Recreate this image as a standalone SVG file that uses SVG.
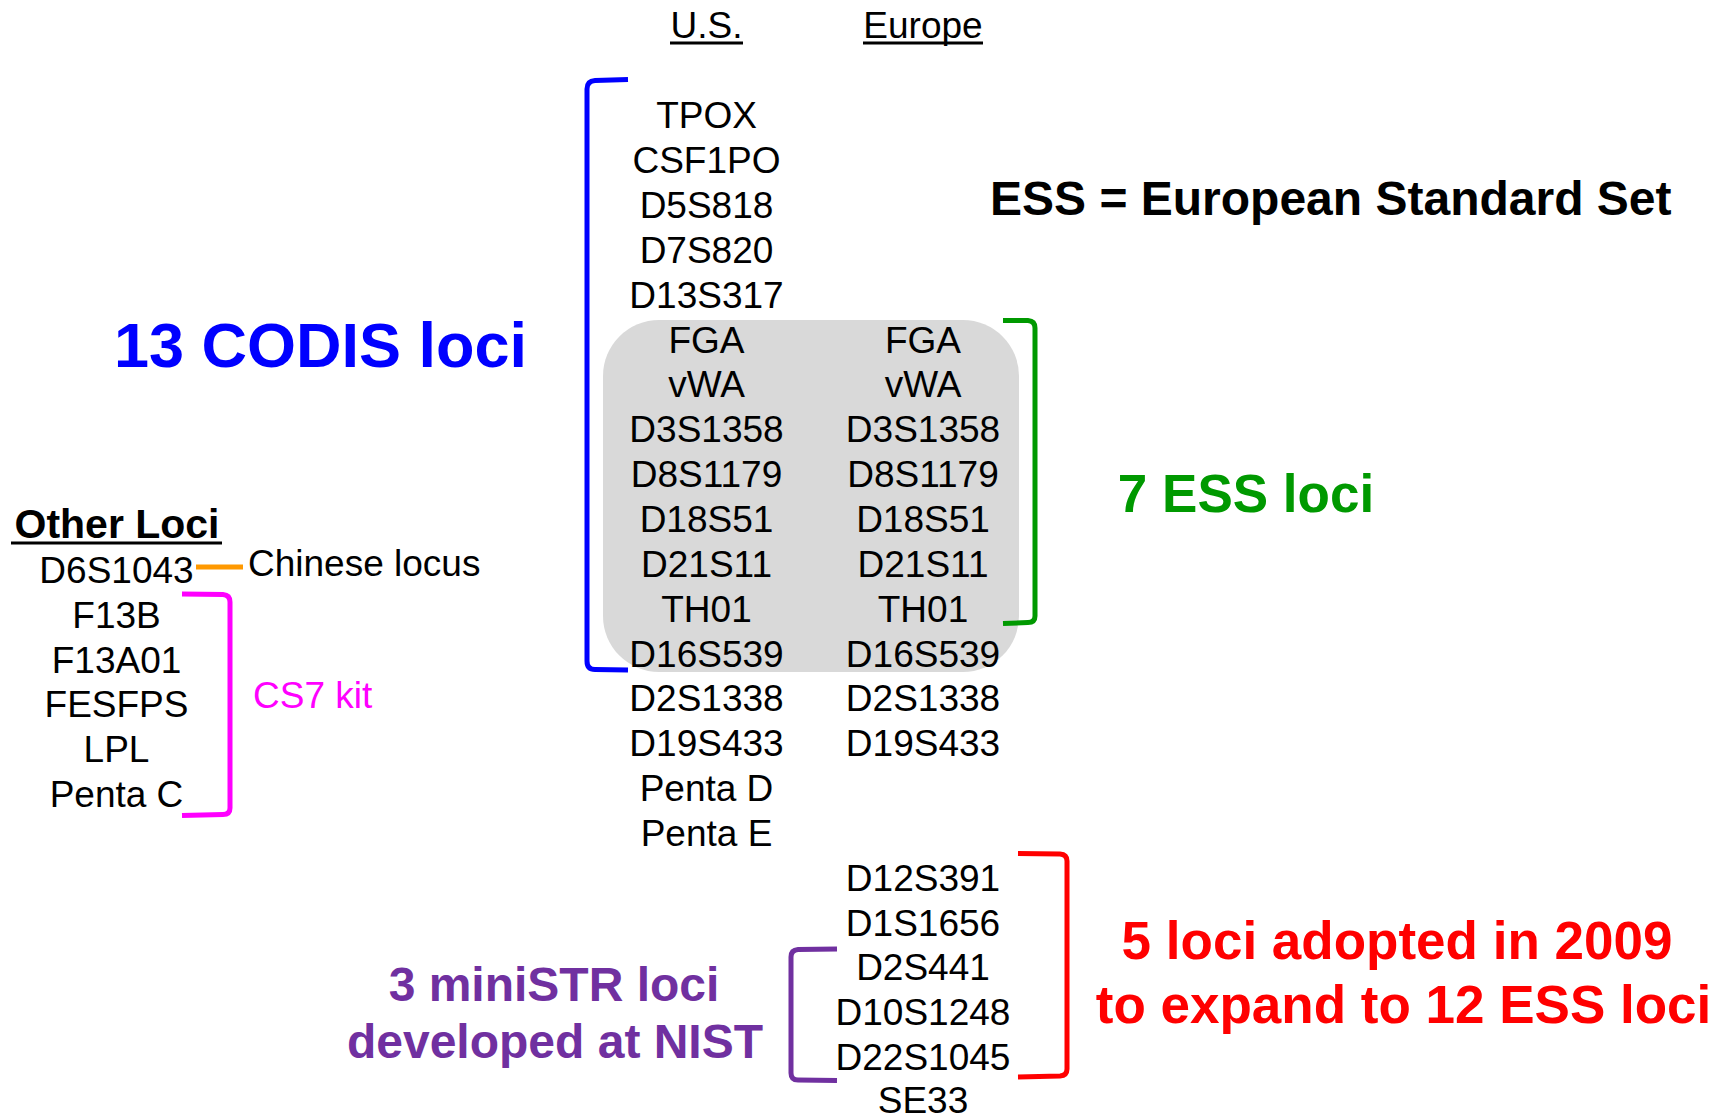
<svg xmlns="http://www.w3.org/2000/svg" width="1733" height="1116" viewBox="0 0 1733 1116">
  <style>
    text { font-family: "Liberation Sans", Arial, sans-serif; }
    .locus { font-size: 37px; fill: #000; text-anchor: middle; }
    .plain { font-size: 37px; }
    .bold { font-weight: bold; }
    .mid { text-anchor: middle; }
    .ul { stroke: #000; stroke-width: 3; }
    .bracket { fill: none; stroke-width: 5; stroke-linejoin: round; stroke-linecap: butt; }
  </style>

  <rect width="1733" height="1116" fill="#ffffff"/>

  <!-- shared loci background -->
  <g id="shared-box">
    <rect x="603" y="320" width="416" height="352" rx="56" ry="56" fill="#d9d9d9"/>
  </g>

  <!-- column headers -->
  <g id="header-us">
    <text class="plain mid" x="706.5" y="38">U.S.</text>
    <line class="ul" x1="670" y1="43" x2="743" y2="43"/>
  </g>
  <g id="header-europe">
    <text class="plain mid" x="923" y="38">Europe</text>
    <line class="ul" x1="863" y1="43" x2="983" y2="43"/>
  </g>

  <!-- U.S. loci column -->
  <g id="us-loci">
    <text class="locus" x="706.5" y="128.3">TPOX</text>
    <text class="locus" x="706.5" y="173.1">CSF1PO</text>
    <text class="locus" x="706.5" y="218">D5S818</text>
    <text class="locus" x="706.5" y="262.8">D7S820</text>
    <text class="locus" x="706.5" y="307.7">D13S317</text>
    <text class="locus" x="706.5" y="352.5">FGA</text>
    <text class="locus" x="706.5" y="397.4">vWA</text>
    <text class="locus" x="706.5" y="442.2">D3S1358</text>
    <text class="locus" x="706.5" y="487.1">D8S1179</text>
    <text class="locus" x="706.5" y="531.9">D18S51</text>
    <text class="locus" x="706.5" y="576.8">D21S11</text>
    <text class="locus" x="706.5" y="621.6">TH01</text>
    <text class="locus" x="706.5" y="666.5">D16S539</text>
    <text class="locus" x="706.5" y="711.3">D2S1338</text>
    <text class="locus" x="706.5" y="756.2">D19S433</text>
    <text class="locus" x="706.5" y="801">Penta D</text>
    <text class="locus" x="706.5" y="845.9">Penta E</text>
  </g>

  <!-- Europe loci column -->
  <g id="europe-loci">
    <text class="locus" x="923" y="352.5">FGA</text>
    <text class="locus" x="923" y="397.4">vWA</text>
    <text class="locus" x="923" y="442.2">D3S1358</text>
    <text class="locus" x="923" y="487.1">D8S1179</text>
    <text class="locus" x="923" y="531.9">D18S51</text>
    <text class="locus" x="923" y="576.8">D21S11</text>
    <text class="locus" x="923" y="621.6">TH01</text>
    <text class="locus" x="923" y="666.5">D16S539</text>
    <text class="locus" x="923" y="711.3">D2S1338</text>
    <text class="locus" x="923" y="756.2">D19S433</text>
    <text class="locus" x="923" y="890.7">D12S391</text>
    <text class="locus" x="923" y="935.6">D1S1656</text>
    <text class="locus" x="923" y="980.4">D2S441</text>
    <text class="locus" x="923" y="1025.3">D10S1248</text>
    <text class="locus" x="923" y="1070.1">D22S1045</text>
    <text class="locus" x="923" y="1112.5">SE33</text>
  </g>

  <!-- other loci list -->
  <g id="other-loci">
    <text class="bold mid" x="117" y="538" font-size="41">Other Loci</text>
    <line class="ul" x1="11" y1="543" x2="222" y2="543" stroke-width="3.5"/>
    <text class="locus" x="116.5" y="583">D6S1043</text>
    <text class="locus" x="116.5" y="627.8">F13B</text>
    <text class="locus" x="116.5" y="672.6">F13A01</text>
    <text class="locus" x="116.5" y="717.4">FESFPS</text>
    <text class="locus" x="116.5" y="762.2">LPL</text>
    <text class="locus" x="116.5" y="807">Penta C</text>
  </g>

  <!-- group labels -->
  <g id="label-codis">
    <text class="bold mid" x="320.5" y="367" font-size="63" fill="#0000ff">13 CODIS loci</text>
  </g>
  <g id="label-ess-definition">
    <text class="bold" x="990" y="215" font-size="48" fill="#000">ESS = European Standard Set</text>
  </g>
  <g id="label-ess7">
    <text class="bold mid" x="1246" y="512" font-size="53" fill="#009900">7 ESS loci</text>
  </g>
  <g id="label-chinese">
    <text class="plain" x="248" y="576" fill="#000">Chinese locus</text>
  </g>
  <g id="label-cs7">
    <text class="plain" x="253" y="708" fill="#ff00ff">CS7 kit</text>
  </g>
  <g id="label-ministr">
    <text class="bold mid" x="554" y="1001" font-size="48" fill="#7030a0">3 miniSTR loci</text>
    <text class="bold mid" x="555" y="1058" font-size="48" fill="#7030a0">developed at NIST</text>
  </g>
  <g id="label-ess-expansion">
    <text class="bold mid" x="1397" y="958.5" font-size="53" fill="#ff0000">5 loci adopted in 2009</text>
    <text class="bold mid" x="1403.5" y="1023" font-size="53" fill="#ff0000">to expand to 12 ESS loci</text>
  </g>

  <!-- brackets and link line -->
  <g id="connectors">
    <path class="bracket" stroke="#0000ff" d="M628,79.5 L595,80.5 Q587,81 587,89 L587,661 Q587,669.5 595,669.5 L628,670"/>
    <path class="bracket" stroke="#009900" d="M1003,320.5 L1028,320.5 Q1035,321 1035,328 L1035,616 Q1035,622.5 1028,622.5 L1003,623.5"/>
    <path class="bracket" stroke="#ff00ff" d="M182,594 L223,594.5 Q230,595 230,602 L230,808 Q230,814.5 223,814.5 L182,815.5"/>
    <path class="bracket" stroke="#7030a0" d="M837,949 L798,949.5 Q791,950 791,957 L791,1073 Q791,1080 798,1080 L837,1080.5"/>
    <path class="bracket" stroke="#ff0000" d="M1018,853.5 L1060,854 Q1067,854.5 1067,861 L1067,1069 Q1067,1075.5 1060,1076 L1018,1077"/>
    <line x1="196" y1="567" x2="243" y2="567" stroke="#ff9900" stroke-width="5"/>
  </g>
</svg>
